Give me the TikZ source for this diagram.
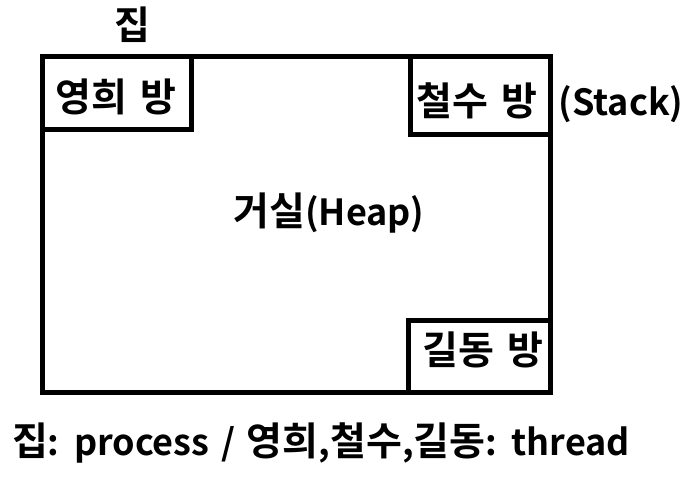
\documentclass[tikz,border=0pt]{standalone}
\usepackage{fontspec}
\setmainfont{Noto Sans CJK KR}[BoldFont={* Bold}]
\newcommand\latw[1]{{\fontsize{36}{40}\selectfont #1}}
\newcommand\widesp{\spaceskip=0.36em\relax}
\newcommand\legsp{\spaceskip=0.3em\relax}
\begin{document}
\begin{tikzpicture}[x=1pt,y=-1pt,
  box/.style={draw=black,line width=5pt},
  lbl/.style={font=\bfseries\fontsize{39}{42}\selectfont,execute at begin node=\widesp,inner sep=0pt,anchor=center}]
\useasboundingbox (0,0) rectangle (694,481);
\draw[box] (42.5,57) rectangle (550,392);
\draw[box] (42.5,57) rectangle (191.5,129.5);
\draw[box] (410.5,57) rectangle (550,135);
\draw[box] (408,321) rectangle (550,392);
\node[lbl] (house) at (132,25) {집};
\node[lbl] (yh) at (116,97) {영희 방};
\node[lbl] (cs) at (477,101) {철수 방};
\node[lbl] (stack) at (621,104) {\latw{(Stack)}};
\node[lbl] (heap) at (329,213) {거실\latw{(Heap)}};
\node[lbl] (gd) at (483,350) {길동 방};
\node[lbl,execute at begin node=\legsp] (legend) at (321,443) {집\latw{: process / }영희\latw{,}철수\latw{,}길동\latw{: thread}};
\end{tikzpicture}
\end{document}
